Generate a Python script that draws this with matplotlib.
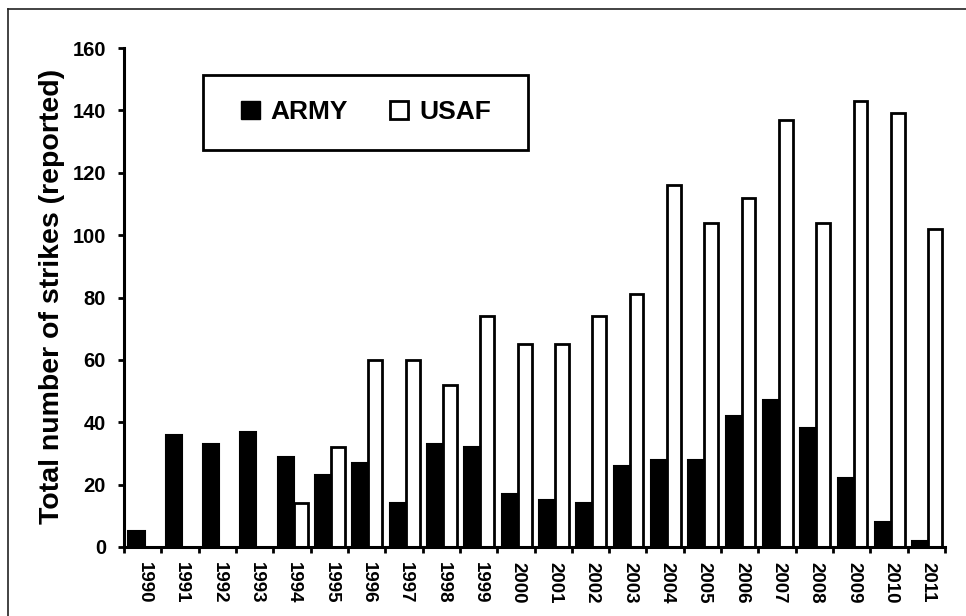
import numpy as np
import matplotlib
matplotlib.use('Agg')
import matplotlib.pyplot as plt
from matplotlib.patches import Patch, Rectangle
from matplotlib.lines import Line2D

years = ['1990', '1991', '1992', '1993', '1994', '1995', '1996', '1997', '1998', '1999', '2000',
         '2001', '2002', '2003', '2004', '2005', '2006', '2007', '2008', '2009', '2010', '2011']
army = [5, 36, 33, 37, 29, 23, 27, 14, 33, 32, 17, 15, 14, 26, 28, 28, 42, 47, 38, 22, 8, 2]
usaf = [0, 0, 0, 0, 14, 32, 60, 60, 52, 74, 65, 65, 74, 81, 116, 104, 112, 137, 104, 143, 139, 102]
yticks = [0, 20, 40, 60, 80, 100, 120, 140, 160]

plt.rcParams['font.family'] = ['Liberation Sans', 'DejaVu Sans']
plt.rcParams['font.weight'] = 'bold'

W, H = 966, 616
fig = plt.figure(figsize=(W / 100, H / 100), dpi=100)
ax = fig.add_axes([124 / W, 1 - 547 / H, (945 - 124) / W, (547 - 48) / H])

x = np.arange(len(years))
# категория i занимает [i, i+1], метки на границах
ax.bar(x + 0.12, army, width=0.43, align='edge', color='black', edgecolor='black', linewidth=1.5, zorder=3)
ax.bar(x + 0.55, usaf, width=0.37, align='edge', color='white', edgecolor='black', linewidth=2.0, zorder=2)

ax.set_xlim(0, len(years))
ax.set_ylim(0, 160)
ax.set_yticks(yticks)
ax.set_yticklabels([str(v) for v in yticks], fontsize=14.5, fontweight='bold')
ax.set_xticks(np.arange(len(years) + 1))
ax.set_xticklabels([])
ax.set_xticks(x + 0.55, minor=True)
ax.set_xticklabels(years, minor=True, rotation=-90, fontsize=13.5, fontweight='bold')
ax.tick_params(axis='x', which='major', direction='out', length=4, width=2)
ax.tick_params(axis='x', which='minor', length=0, pad=11)
ax.tick_params(axis='y', direction='out', length=4, width=2, pad=9)

for s in ['top', 'right']:
    ax.spines[s].set_visible(False)
for s in ['left', 'bottom']:
    ax.spines[s].set_linewidth(2.2)

fig.text(52 / W, 1 - 296 / H, 'Total number of strikes (reported)', rotation=90,
         ha='center', va='center', fontsize=20.5, fontweight='bold')

# рамка легенды
fig.patches.append(Rectangle((203 / W, 1 - 150 / H), 325 / W, 75 / H, transform=fig.transFigure,
                             facecolor='white', edgecolor='black', linewidth=2, zorder=5))
handles = [Patch(facecolor='black', edgecolor='black'),
           Patch(facecolor='white', edgecolor='black', linewidth=2)]
leg = fig.legend(handles, ['ARMY', 'USAF'], loc='center', bbox_to_anchor=(366 / W, 1 - 112 / H),
                 ncol=2, frameon=False, handlelength=0.7, handleheight=0.7,
                 handletextpad=0.4, columnspacing=1.6, prop={'weight': 'bold', 'size': 19})
leg.set_zorder(6)

# внешняя рамка рисунка
fig.add_artist(Line2D([8 / W, 8 / W], [0, 1 - 9 / H], transform=fig.transFigure, color='#222222', linewidth=1.2))
fig.add_artist(Line2D([8 / W, 1], [1 - 9 / H, 1 - 9 / H], transform=fig.transFigure, color='#222222', linewidth=1.2))

fig.savefig('out.png', dpi=100)
